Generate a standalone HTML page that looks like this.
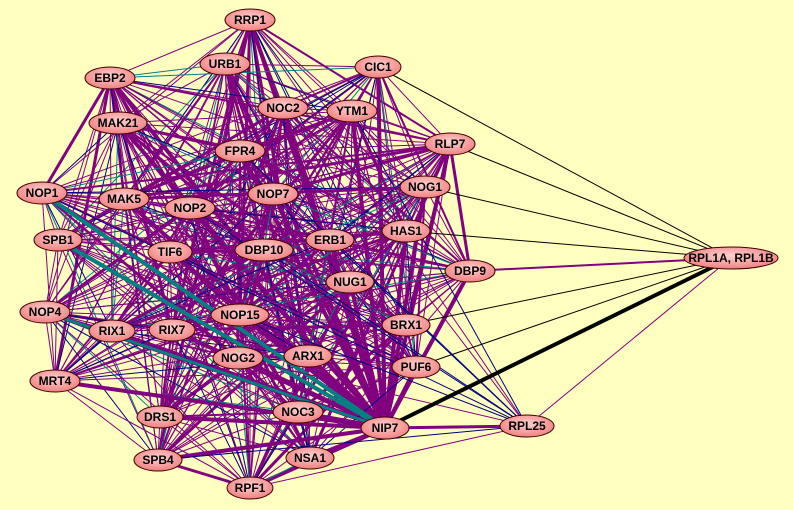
<!DOCTYPE html>
<html><head><meta charset="utf-8"><style>
html,body{margin:0;padding:0;background:#ffffc0;width:793px;height:510px;overflow:hidden}
svg{display:block}
text{font-family:"Liberation Sans",sans-serif;font-size:12px;font-weight:bold;fill:#000;text-anchor:middle;dominant-baseline:central}
</style></head><body>
<svg id="s" width="793" height="510" viewBox="0 0 793 510">
<defs><radialGradient id="g" cx="50%" cy="40%" r="60%"><stop offset="0" stop-color="#ffd0d0"/><stop offset="1" stop-color="#f08080"/></radialGradient></defs>
<rect width="793" height="510" fill="#ffffc0"/>
<g id="edges"></g>
<g id="nodes" stroke="#400000" stroke-width="1" fill="url(#g)">
<ellipse cx="250" cy="20" rx="25" ry="11"/><text x="250" y="20" stroke="none">RRP1</text>
<ellipse cx="225" cy="64" rx="25" ry="11"/><text x="225" y="64" stroke="none">URB1</text>
<ellipse cx="110" cy="78" rx="25" ry="11"/><text x="110" y="78" stroke="none">EBP2</text>
<ellipse cx="378" cy="67" rx="23" ry="11"/><text x="378" y="67" stroke="none">CIC1</text>
<ellipse cx="283" cy="108" rx="25" ry="11"/><text x="283" y="108" stroke="none">NOC2</text>
<ellipse cx="352" cy="111" rx="25" ry="11"/><text x="352" y="111" stroke="none">YTM1</text>
<ellipse cx="118" cy="123" rx="29" ry="11"/><text x="118" y="123" stroke="none">MAK21</text>
<ellipse cx="240" cy="151" rx="25" ry="11"/><text x="240" y="151" stroke="none">FPR4</text>
<ellipse cx="450" cy="144" rx="25" ry="11"/><text x="450" y="144" stroke="none">RLP7</text>
<ellipse cx="42" cy="193" rx="25" ry="11"/><text x="42" y="193" stroke="none">NOP1</text>
<ellipse cx="124" cy="199" rx="25" ry="11"/><text x="124" y="199" stroke="none">MAK5</text>
<ellipse cx="190" cy="208" rx="25" ry="11"/><text x="190" y="208" stroke="none">NOP2</text>
<ellipse cx="273" cy="194" rx="25" ry="11"/><text x="273" y="194" stroke="none">NOP7</text>
<ellipse cx="425" cy="187" rx="25" ry="11"/><text x="425" y="187" stroke="none">NOG1</text>
<ellipse cx="58" cy="240" rx="24" ry="11"/><text x="58" y="240" stroke="none">SPB1</text>
<ellipse cx="170" cy="252" rx="22" ry="11"/><text x="170" y="252" stroke="none">TIF6</text>
<ellipse cx="264" cy="250" rx="29" ry="11"/><text x="264" y="250" stroke="none">DBP10</text>
<ellipse cx="330" cy="240" rx="24" ry="11"/><text x="330" y="240" stroke="none">ERB1</text>
<ellipse cx="406" cy="231" rx="24" ry="11"/><text x="406" y="231" stroke="none">HAS1</text>
<ellipse cx="731" cy="258" rx="47" ry="11"/><text x="731" y="258" stroke="none">RPL1A, RPL1B</text>
<ellipse cx="350" cy="282" rx="24" ry="11"/><text x="350" y="282" stroke="none">NUG1</text>
<ellipse cx="470" cy="271" rx="25" ry="11"/><text x="470" y="271" stroke="none">DBP9</text>
<ellipse cx="45" cy="312" rx="25" ry="11"/><text x="45" y="312" stroke="none">NOP4</text>
<ellipse cx="112" cy="331" rx="23" ry="11"/><text x="112" y="331" stroke="none">RIX1</text>
<ellipse cx="172" cy="330" rx="23" ry="11"/><text x="172" y="330" stroke="none">RIX7</text>
<ellipse cx="240" cy="315" rx="29" ry="11"/><text x="240" y="315" stroke="none">NOP15</text>
<ellipse cx="406" cy="325" rx="24" ry="11"/><text x="406" y="325" stroke="none">BRX1</text>
<ellipse cx="238" cy="358" rx="25" ry="11"/><text x="238" y="358" stroke="none">NOG2</text>
<ellipse cx="308" cy="356" rx="24" ry="11"/><text x="308" y="356" stroke="none">ARX1</text>
<ellipse cx="416" cy="367" rx="24" ry="11"/><text x="416" y="367" stroke="none">PUF6</text>
<ellipse cx="55" cy="381" rx="25" ry="11"/><text x="55" y="381" stroke="none">MRT4</text>
<ellipse cx="160" cy="417" rx="23" ry="11"/><text x="160" y="417" stroke="none">DRS1</text>
<ellipse cx="298" cy="412" rx="25" ry="11"/><text x="298" y="412" stroke="none">NOC3</text>
<ellipse cx="385" cy="428" rx="24" ry="11"/><text x="385" y="428" stroke="none">NIP7</text>
<ellipse cx="527" cy="426" rx="27" ry="11"/><text x="527" y="426" stroke="none">RPL25</text>
<ellipse cx="310" cy="458" rx="24" ry="11"/><text x="310" y="458" stroke="none">NSA1</text>
<ellipse cx="158" cy="460" rx="24" ry="11"/><text x="158" y="460" stroke="none">SPB4</text>
<ellipse cx="250" cy="488" rx="23" ry="11"/><text x="250" y="488" stroke="none">RPF1</text>
</g>
</svg>
<script>
var P=[[250,20],[225,64],[110,78],[378,67],[283,108],[352,111],[118,123],[240,151],[450,144],[42,193],[124,199],[190,208],[273,194],[425,187],[58,240],[170,252],[264,250],[330,240],[406,231],[350,282],[470,271],[45,312],[112,331],[172,330],[240,315],[406,325],[238,358],[308,356],[416,367],[55,381],[160,417],[298,412],[385,428],[310,458],[158,460],[250,488]];
var R=[731,258],R25=[527,426],NIP=32;
var g=document.getElementById('edges'),h='';
function L(a,b,c,w){h+='<line x1="'+a[0]+'" y1="'+a[1]+'" x2="'+b[0]+'" y2="'+b[1]+'" stroke="'+c+'" stroke-width="'+w+'"/>';}
var seed=7;function rnd(){seed=(seed*9301+49297)%233280;return seed/233280;}
for(var i=0;i<P.length;i++)for(var j=i+1;j<P.length;j++){
 var r=rnd();if(r<0.12)continue;
 var c=r<0.2?'#000080':(r<0.26?'#008080':'#800080');
 var w=r>0.93?3:(r>0.84?2:1);
 if(i==NIP||j==NIP){c='#800080';w=4;}
 L(P[i],P[j],c,w);}
L(P[9],P[NIP],'#008080',4);L(P[14],P[NIP],'#008080',4);L(P[21],P[NIP],'#008080',3);
for(var i=0;i<P.length;i++){var r=rnd();if(r<0.4)L(P[i],R25,r<0.2?'#000080':'#800080',1);}
L(P[NIP],R25,'#800080',3);
[3,8,13,18,20,25,28].forEach(function(k){L(P[k],R,'#000',1);});
L(P[NIP],R,'#000',4);L(R25,R,'#800080',1);L(P[20],R,'#800080',2);
g.innerHTML=h;
</script>
</body></html>
